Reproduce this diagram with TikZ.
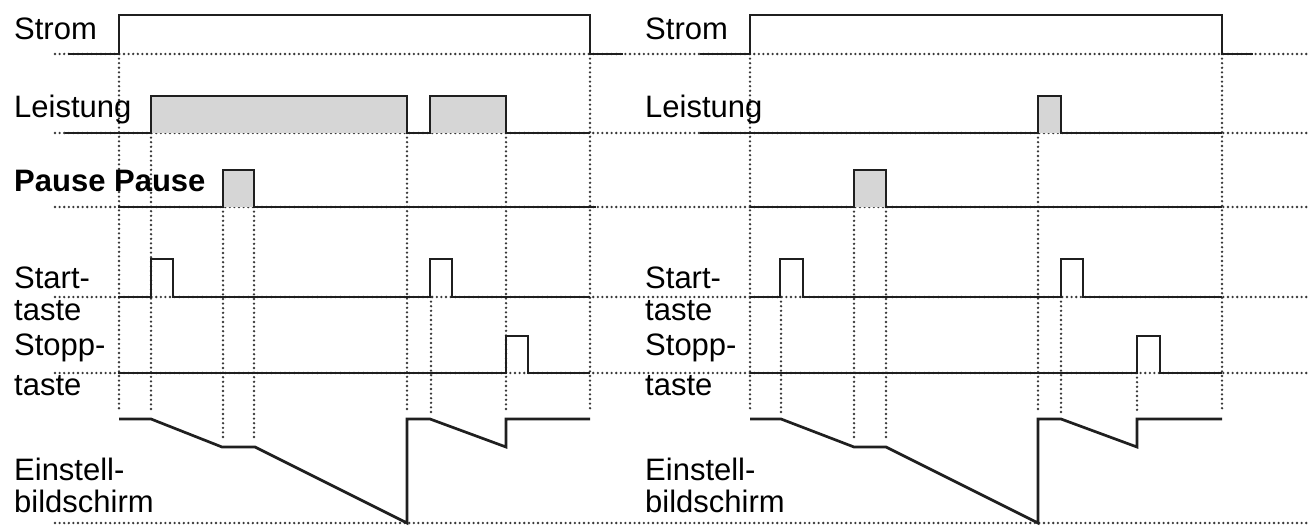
\documentclass[tikz,border=0pt]{standalone}
\usepackage{fontspec}
\setmainfont{Liberation Sans}
\begin{document}
\begin{tikzpicture}[x=1pt,y=-1pt,
  sig/.style={line width=2.7pt,draw=black!88,line join=miter},
  dots/.style={line width=2.6pt,draw=black!78,line cap=round,dash pattern=on 0pt off 4.6pt},
  lbl/.style={anchor=base west,inner sep=0pt,font=\fontsize{31}{37}\selectfont},
  pfill/.style={fill=black!16}]
\useasboundingbox (0,0) rectangle (1315,532);
% horizontal dotted baselines
\foreach \yy in {54,133,207,297,373,523}{
  \draw[dots] (55,\yy) -- (1310,\yy);
}
% vertical dotted lines, left
\draw[dots] (119,54) -- (119,412);
\draw[dots] (151,133) -- (151,412);
\draw[dots] (223,207) -- (223,440);
\draw[dots] (254,207) -- (254,440);
\draw[dots] (407,133) -- (407,412);
\draw[dots] (431,297) -- (431,412);
\draw[dots] (506,133) -- (506,412);
\draw[dots] (590,54) -- (590,412);
% vertical dotted lines, right
\draw[dots] (750,54) -- (750,412);
\draw[dots] (781,297) -- (781,412);
\draw[dots] (854,207) -- (854,440);
\draw[dots] (886,207) -- (886,440);
\draw[dots] (1038,133) -- (1038,412);
\draw[dots] (1061,297) -- (1061,412);
\draw[dots] (1137,373) -- (1137,412);
\draw[dots] (1222,54) -- (1222,412);
% fills
\fill[pfill] (151,96) rectangle (407,133);
\fill[pfill] (430,96) rectangle (506,133);
\fill[pfill] (223,170) rectangle (254,207);
\fill[pfill] (1038,96) rectangle (1061,133);
\fill[pfill] (854,170) rectangle (886,207);
% ---------- left panel signals
\draw[sig] (68,54) -- (119,54) -- (119,15) -- (590,15) -- (590,54) -- (623,54);
\draw[sig] (65,133) -- (151,133) -- (151,96) -- (407,96) -- (407,133) -- (430,133) -- (430,96) -- (506,96) -- (506,133) -- (590,133);
\draw[sig] (118,207) -- (223,207) -- (223,170) -- (254,170) -- (254,207) -- (596,207);
\draw[sig] (118,297) -- (151,297) -- (151,259) -- (173,259) -- (173,297) -- (430,297) -- (430,259) -- (452,259) -- (452,297) -- (590,297);
\draw[sig] (118,373) -- (506,373) -- (506,336) -- (528,336) -- (528,373) -- (590,373);
\draw[sig] (119,419) -- (151,419) -- (222,447) -- (255,447) -- (407,523) -- (407,419) -- (430,419) -- (506,447) -- (506,419) -- (590,419);
% ---------- right panel signals
\draw[sig] (700,54) -- (750,54) -- (750,15) -- (1222,15) -- (1222,54) -- (1253,54);
\draw[sig] (700,133) -- (1038,133) -- (1038,96) -- (1061,96) -- (1061,133) -- (1222,133);
\draw[sig] (750,207) -- (854,207) -- (854,170) -- (886,170) -- (886,207) -- (1222,207);
\draw[sig] (750,297) -- (780,297) -- (780,259) -- (803,259) -- (803,297) -- (1061,297) -- (1061,259) -- (1083,259) -- (1083,297) -- (1222,297);
\draw[sig] (750,373) -- (1137,373) -- (1137,336) -- (1160,336) -- (1160,373) -- (1222,373);
\draw[sig] (750,419) -- (781,419) -- (854,447) -- (886,447) -- (1038,523) -- (1038,419) -- (1061,419) -- (1137,447) -- (1137,419) -- (1222,419);
% ---------- labels left
\node[lbl] (ls) at (14,40) {Strom};
\node[lbl] (ll) at (14,118) {Leistung};
\node[lbl,font=\fontsize{31}{37}\selectfont\bfseries] (lp) at (14,192) {Pause Pause};
\node[lbl] (lst1) at (14,288) {Start-};
\node[lbl] (lst2) at (14,320) {taste};
\node[lbl] (lsp1) at (14,355) {Stopp-};
\node[lbl] (lsp2) at (14,395) {taste};
\node[lbl] (le1) at (14,480) {Einstell-};
\node[lbl] (le2) at (14,512) {bildschirm};
% ---------- labels right
\node[lbl] (rs) at (645,40) {Strom};
\node[lbl] (rl) at (645,118) {Leistung};
\node[lbl] (rst1) at (645,288) {Start-};
\node[lbl] (rst2) at (645,320) {taste};
\node[lbl] (rsp1) at (645,355) {Stopp-};
\node[lbl] (rsp2) at (645,395) {taste};
\node[lbl] (re1) at (645,480) {Einstell-};
\node[lbl] (re2) at (645,512) {bildschirm};
\end{tikzpicture}
\end{document}
